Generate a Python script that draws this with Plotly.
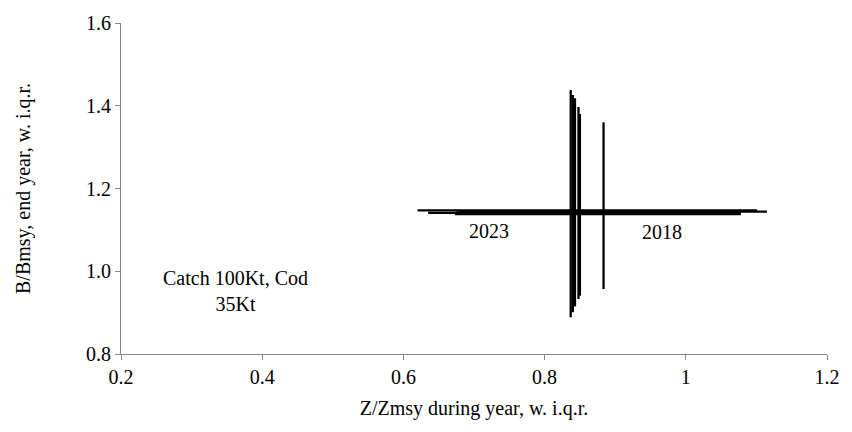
import plotly.graph_objects as go

years = [2018, 2019, 2020, 2021, 2022, 2023]
z_mid = [0.8835, 0.850, 0.848, 0.843, 0.840, 0.837]
z_lo = [0.680, 0.675, 0.673, 0.673, 0.635, 0.620]
z_hi = [1.115, 1.064, 1.070, 1.078, 1.078, 1.101]
b_mid = [1.144, 1.142, 1.140, 1.138, 1.141, 1.147]
b_lo = [0.957, 0.941, 0.933, 0.915, 0.901, 0.889]
b_hi = [1.360, 1.380, 1.397, 1.418, 1.426, 1.438]

x_ticks = [0.2, 0.4, 0.6, 0.8, 1.0, 1.2]
x_ticktext = ["0.2", "0.4", "0.6", "0.8", "1", "1.2"]
y_ticks = [0.8, 1.0, 1.2, 1.4, 1.6]
y_ticktext = ["0.8", "1.0", "1.2", "1.4", "1.6"]

year_labels = [("2023", 0.721, 1.098), ("2018", 0.966, 1.096)]
note_text = "Catch 100Kt, Cod<br>35Kt"
note_pos = (0.362, 0.953)

FONT = "Liberation Serif, Times New Roman, serif"
AXC = "#868686"
FS = 20

fig = go.Figure()
for i, yr in enumerate(years):
    fig.add_trace(go.Scatter(
        x=[z_mid[i]], y=[b_mid[i]], mode="markers", name=str(yr),
        marker=dict(size=1, color="rgba(0,0,0,0)"),
        error_x=dict(type="data", symmetric=False,
                     array=[z_hi[i] - z_mid[i]], arrayminus=[z_mid[i] - z_lo[i]],
                     color="black", thickness=2.3, width=0),
        error_y=dict(type="data", symmetric=False,
                     array=[b_hi[i] - b_mid[i]], arrayminus=[b_mid[i] - b_lo[i]],
                     color="black", thickness=2.3, width=0),
        showlegend=False, hoverinfo="skip",
    ))

for txt, xx, yy in year_labels:
    fig.add_annotation(x=xx, y=yy, text=txt, showarrow=False,
                       font=dict(family=FONT, size=FS, color="black"))
fig.add_annotation(x=note_pos[0], y=note_pos[1], text=note_text, showarrow=False,
                   font=dict(family=FONT, size=FS, color="black"), align="center")

fig.update_layout(
    width=852, height=432,
    margin=dict(l=121, r=18, t=19, b=78),
    paper_bgcolor="white", plot_bgcolor="white",
    font=dict(family=FONT, size=FS, color="black"),
    xaxis=dict(range=[0.2, 1.2], tickvals=x_ticks, ticktext=x_ticktext,
               showgrid=False, zeroline=False, showline=True, linecolor=AXC,
               linewidth=1, ticks="outside", ticklen=5, tickcolor=AXC,
               title=dict(text="Z/Zmsy during year, w. i.q.r.", standoff=13,
                          font=dict(family=FONT, size=FS))),
    yaxis=dict(range=[0.8, 1.6], tickvals=y_ticks, ticktext=y_ticktext,
               showgrid=False, zeroline=False, showline=True, linecolor=AXC,
               linewidth=1, ticks="outside", ticklen=5, tickcolor=AXC,
               title=dict(text="B/Bmsy, end year, w. i.q.r.", standoff=50,
                          font=dict(family=FONT, size=FS))),
)

fig.write_html("out.html")
